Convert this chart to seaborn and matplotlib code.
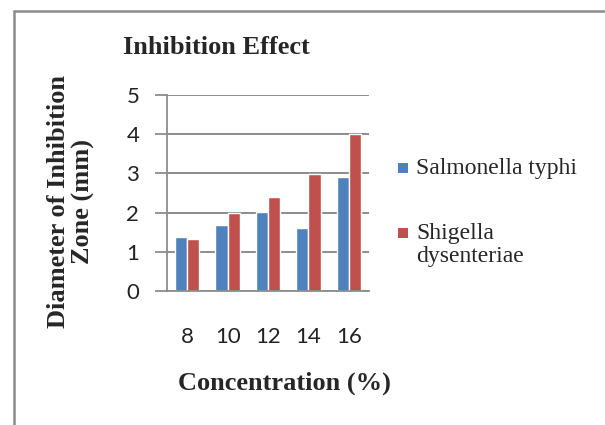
import matplotlib
matplotlib.use("Agg")
import matplotlib.pyplot as plt
import seaborn as sns
import pandas as pd
from matplotlib.lines import Line2D
from matplotlib.patches import Rectangle

concentrations = ["8", "10", "12", "14", "16"]
salmonella = [1.37, 1.69, 2.02, 1.60, 2.91]
shigella = [1.33, 2.00, 2.39, 2.98, 4.00]
series_names = ["Salmonella typhi", "Shigella\ndysenteriae"]
colors = ["#4F81BD", "#C0504D"]
yticks = [0, 1, 2, 3, 4, 5]

df = pd.DataFrame({
    "Concentration": concentrations * 2,
    "Value": salmonella + shigella,
    "Series": [series_names[0]] * 5 + [series_names[1]] * 5,
})

sns.set_style("white")
plt.rcParams['font.family'] = ['Liberation Serif', 'DejaVu Sans']

fig = plt.figure(figsize=(6.05, 4.25), dpi=100)
ax = fig.add_axes([167/605, 1-291/425, (369-167)/605, (291-95)/425])

sns.barplot(data=df, x="Concentration", y="Value", hue="Series",
            order=concentrations, hue_order=series_names,
            palette=colors, width=0.6, saturation=1, ax=ax, legend=False)

ax.set_ylim(0, 5)
ax.set_xlim(-0.5, 4.5)
ax.set_yticks(yticks)
ax.set_yticklabels([str(t) for t in yticks], fontfamily="Lato", fontsize=16, color="#222222")
ax.set_xticks(range(len(concentrations)))
ax.set_xticklabels(concentrations, fontfamily="Lato", fontsize=16, color="#222222")
ax.tick_params(axis="y", length=9, width=1.3, color="#8c8c8c", pad=11, left=True)
ax.tick_params(axis="x", length=0, pad=26)
ax.set_xlabel("")
ax.set_ylabel("")
ax.yaxis.grid(True, color="#8c8c8c", linewidth=1.4)
ax.set_axisbelow(True)
for s in ["top", "right"]:
    ax.spines[s].set_visible(False)
for s in ["left", "bottom"]:
    ax.spines[s].set_color("#8c8c8c")
    ax.spines[s].set_linewidth(1.3)

fig.text(216/605, 1-48/425, "Inhibition Effect", ha="center", va="center",
         fontsize=19, fontweight="bold")
fig.text(71/605, 1-202/425, "Diameter of Inhibition\nZone (mm)", ha="center", va="center",
         rotation=90, fontsize=19, fontweight="bold", linespacing=1.05)
fig.text(284/605, 1-383/425, "Concentration (%)", ha="center", va="center",
         fontsize=19, fontweight="bold")

# legend (drawn manually to match the reference's top-aligned markers)
legend_rows = [(168, series_names[0]), (233, series_names[1])]
for (yc, label), c in zip(legend_rows, colors):
    fig.add_artist(Rectangle((398/605, 1-(yc+5)/425), 10/605, 10/425,
                             facecolor=c, edgecolor="none", transform=fig.transFigure))
    fig.text(416/605, 1-(yc-10)/425, label, ha="left", va="top",
             fontsize=17, linespacing=1.12)

# outer frame lines (top and left)
fig.add_artist(Line2D([14/605, 1], [1-11/425, 1-11/425], color="#8c8c8c", linewidth=1.8,
                      transform=fig.transFigure))
fig.add_artist(Line2D([14/605, 14/605], [0, 1-11/425], color="#8c8c8c", linewidth=1.8,
                      transform=fig.transFigure))

fig.savefig("out.png", dpi=100)
